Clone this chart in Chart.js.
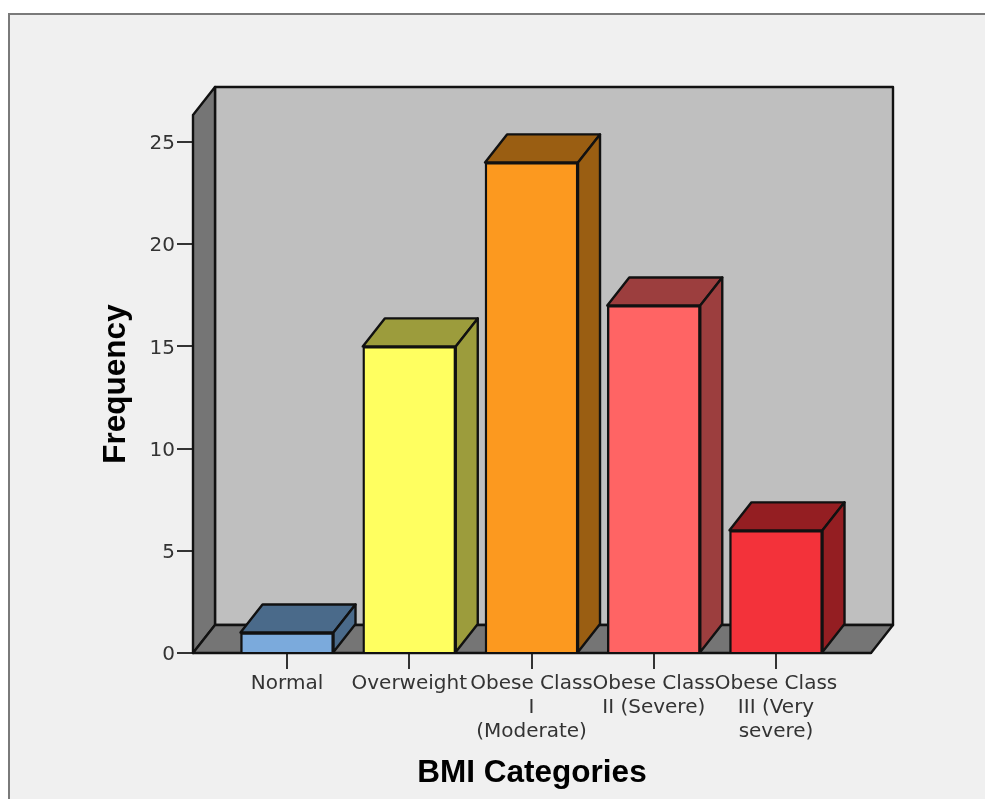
<!DOCTYPE html>
<html>
<head>
<meta charset="utf-8">
<title>BMI Categories</title>
<style>
html, body { margin: 0; padding: 0; background: #fff; overflow: hidden; }
#frame { position: absolute; left: 8px; top: 13px; right: 0; bottom: 0; background: #f0f0f0; border-top: 2px solid #7a7a7a; border-left: 2px solid #7a7a7a; }
#chart1 { position: absolute; left: 0; top: 0; }
</style>
<script src="https://cdn.jsdelivr.net/npm/chart.js@4"></script>
</head>
<body>
<div id="frame"></div>
<canvas id="chart1" width="985" height="799"></canvas>
<script>
var categories = [["Normal"], ["Overweight"], ["Obese Class", "I", "(Moderate)"], ["Obese Class", "II (Severe)"], ["Obese Class", "III (Very", "severe)"]];
var frequency = [1, 15, 24, 17, 6];
var frontColors = ['#7baadc', '#ffff60', '#fc991f', '#ff6464', '#f3323a'];
var shadeColors = ['#4a6a8a', '#9c9c3c', '#9a5e12', '#9c3e3e', '#941e22'];

var depthX = 22;
var depthY = 28;
var edgeColor = '#111';
var edgeWidth = 2.4;

function poly(ctx, points, fill) {
    ctx.beginPath();
    ctx.moveTo(points[0][0], points[0][1]);
    for (var i = 1; i < points.length; i++) {
        ctx.lineTo(points[i][0], points[i][1]);
    }
    ctx.closePath();
    ctx.fillStyle = fill;
    ctx.fill();
    ctx.stroke();
}

// back wall, side wall, floor and the top/side faces of each bar
var box3d = {
    id: 'box3d',
    beforeDatasetsDraw: function (chart) {
        var ctx = chart.ctx;
        var area = chart.chartArea;
        var floor = chart.scales.y.getPixelForValue(0);
        ctx.save();
        ctx.strokeStyle = edgeColor;
        ctx.lineWidth = edgeWidth;
        ctx.lineJoin = 'round';

        poly(ctx, [[area.left + depthX, area.top - depthY], [area.right + depthX, area.top - depthY],
            [area.right + depthX, floor - depthY], [area.left + depthX, floor - depthY]], '#bfbfbf');
        poly(ctx, [[area.left, area.top], [area.left + depthX, area.top - depthY],
            [area.left + depthX, floor - depthY], [area.left, floor]], '#757575');
        poly(ctx, [[area.left, floor], [area.left + depthX, floor - depthY],
            [area.right + depthX, floor - depthY], [area.right, floor]], '#757575');

        chart.getDatasetMeta(0).data.forEach(function (bar, i) {
            var p = bar.getProps(['x', 'y', 'base', 'width'], true);
            var left = p.x - p.width / 2;
            var right = p.x + p.width / 2;
            poly(ctx, [[left, p.y], [left + depthX, p.y - depthY],
                [right + depthX, p.y - depthY], [right, p.y]], shadeColors[i]);
            poly(ctx, [[right, p.y], [right + depthX, p.y - depthY],
                [right + depthX, p.base - depthY], [right, p.base]], shadeColors[i]);
        });
        ctx.restore();
    }
};

var chart1 = document.getElementById('chart1').getContext('2d');
var myChart1 = new Chart(chart1, {
    type: 'bar',
    data: {
        datasets: [{
            label: 'Frequency',
            data: frequency.map(function (v, i) { return { x: i, y: v }; }),
            backgroundColor: frontColors,
            borderColor: edgeColor,
            borderWidth: edgeWidth,
            barThickness: 93
        }]
    },
    options: {
        responsive: false,
        animation: false,
        layout: { padding: { left: 97, top: 115, right: 114, bottom: 7 } },
        plugins: {
            legend: { display: false },
            tooltip: { enabled: false }
        },
        scales: {
            x: {
                type: 'linear',
                offset: false,
                min: -0.769,
                max: 4.777,
                afterFit: function (scale) { scale.height = 139; },
                border: { color: edgeColor, width: 2 },
                grid: { offset: false, drawOnChartArea: false, color: '#333', lineWidth: 2, tickLength: 16 },
                ticks: {
                    stepSize: 1,
                    includeBounds: false,
                    autoSkip: false,
                    maxRotation: 0,
                    padding: 3,
                    color: '#333',
                    font: { family: 'DejaVu Sans', size: 20, lineHeight: 1.2 },
                    callback: function (value) { return categories[value]; }
                },
                title: {
                    display: true,
                    text: 'BMI Categories',
                    color: '#000',
                    font: { family: 'Liberation Sans', size: 31.5, weight: 'bold' },
                    padding: { top: 0, bottom: 0 }
                }
            },
            y: {
                min: 0,
                max: 26.32,
                afterFit: function (scale) { scale.width = 96; },
                border: { color: edgeColor, width: 2 },
                grid: { drawOnChartArea: false, color: '#333', lineWidth: 2, tickLength: 16 },
                ticks: {
                    stepSize: 5,
                    includeBounds: false,
                    padding: 2,
                    labelOffset: 2,
                    color: '#333',
                    font: { family: 'DejaVu Sans', size: 20 }
                },
                title: {
                    display: true,
                    text: 'Frequency',
                    color: '#000',
                    font: { family: 'Liberation Sans', size: 31.5, weight: 'bold' },
                    padding: { top: 0, bottom: 0 }
                }
            }
        }
    },
    plugins: [box3d]
});
</script>
</body>
</html>
